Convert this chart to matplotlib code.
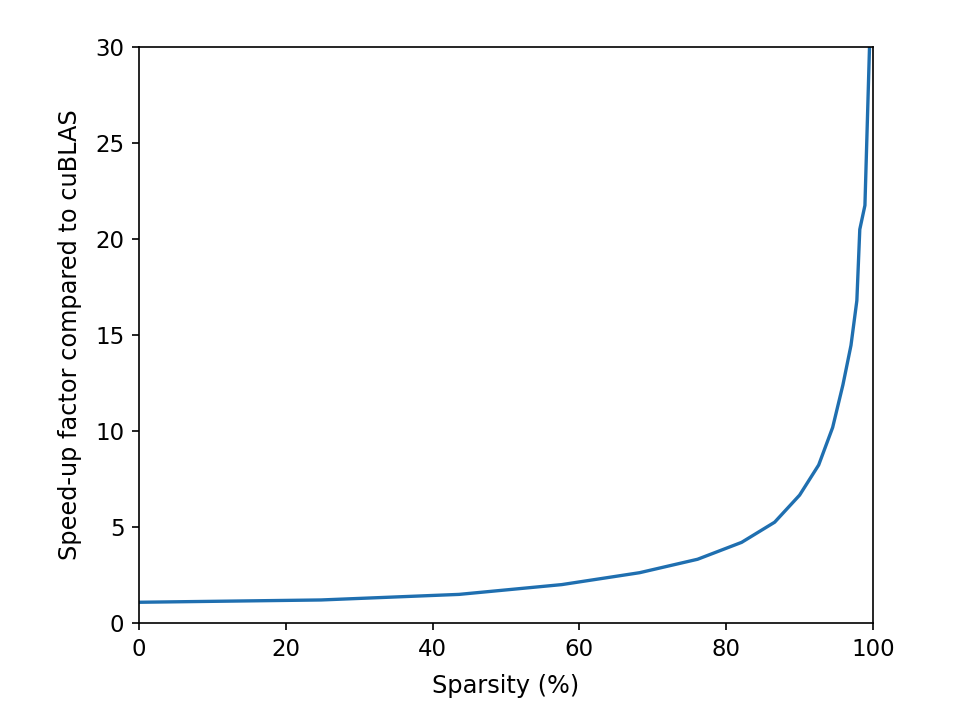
import numpy as np
import matplotlib
matplotlib.use("Agg")
import matplotlib.pyplot as plt

# sparsity (%) vs speed-up factor
sparsity = [0, 24.8, 43.6, 57.6, 68.2, 76.1, 82.1, 86.6, 90.0, 92.6,
            94.5, 95.9, 97.0, 97.8, 98.2, 98.9, 99.6]
speedup = [1.08, 1.2, 1.49, 2.0, 2.62, 3.32, 4.2, 5.25, 6.66, 8.23,
           10.18, 12.4, 14.46, 16.79, 20.5, 21.75, 31.0]

fig = plt.figure(figsize=(970 / 150, 724 / 150), dpi=150)
ax = fig.add_axes([0.1433, 0.1395, 0.7567, 0.7956])
ax.plot(sparsity, speedup, color='#1f6fb0', linewidth=1.6)
ax.set_xlim(0, 100)
ax.set_ylim(0, 30)
ax.tick_params(labelsize=11)
ax.set_xlabel('Sparsity (%)', fontsize=11.5, labelpad=6.5)
ax.set_ylabel('Speed-up factor compared to cuBLAS', fontsize=11.5, labelpad=6.5)
fig.savefig('out.png', dpi=150)
